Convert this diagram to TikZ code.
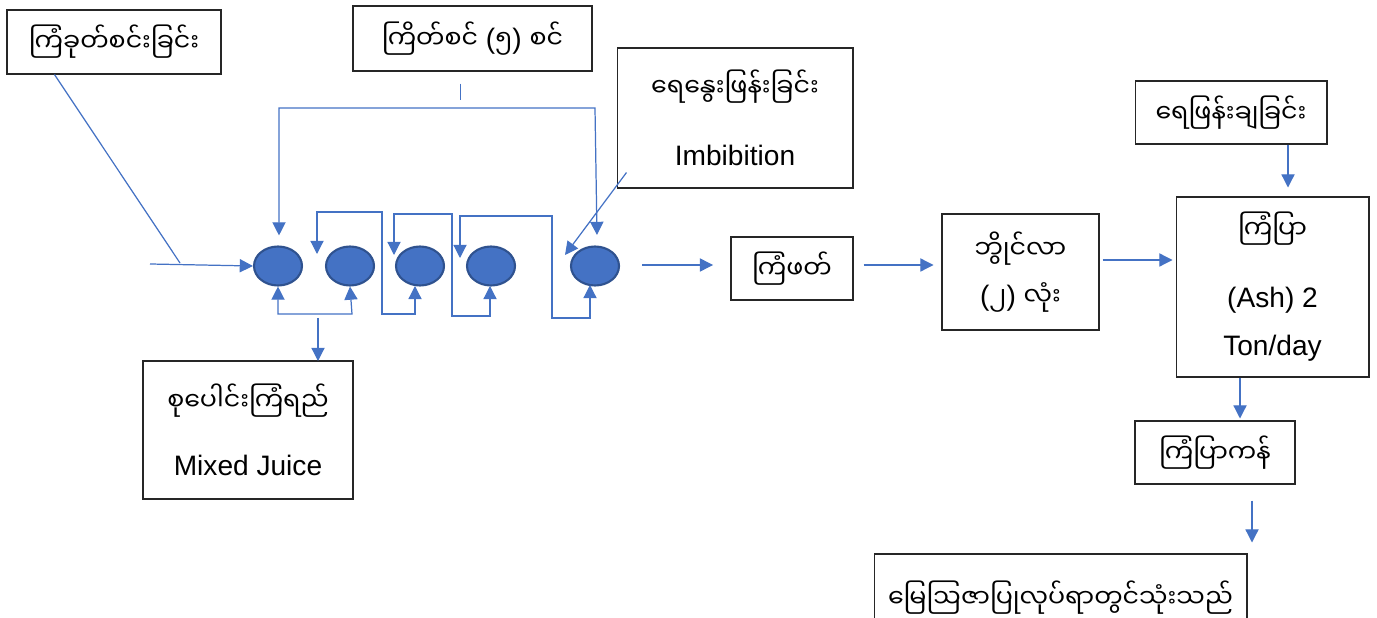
\documentclass[tikz,border=0pt]{standalone}
\usepackage{fontspec}
\setmainfont{Liberation Sans}
\newfontfamily\mya[Script=Myanmar,Scale=0.9]{Noto Sans Myanmar UI}
\usepackage{tikz}
\usetikzlibrary{shapes.geometric, arrows.meta, positioning}

\definecolor{flowblue}{HTML}{4472C4}
\definecolor{millrim}{HTML}{2F528F}
\tikzset{
    box/.style={draw=black!85, line width=0.6pt, align=center, inner sep=0pt},
    mill/.style={ellipse, draw=millrim, line width=1.2pt, fill=flowblue,
                 minimum width=0.96cm, minimum height=0.78cm, inner sep=0pt},
    wire/.style={draw=flowblue, line width=0.7pt},
}

\begin{document}
\begin{tikzpicture}[x=0.02cm, y=-0.02cm, >={Triangle[length=7.5pt,width=7.5pt]},
    font=\fontsize{16pt}{19pt}\selectfont]
    \useasboundingbox (0,0) rectangle (1377,618);
    \clip (0,0) rectangle (1377,618);

    % boxes
    \node[box, minimum width=4.28cm, minimum height=1.28cm] (cut) at (114,42) {\mya ကြံခုတ်စင်းခြင်း};
    \node[box, minimum width=4.78cm, minimum height=1.30cm] (crush) at (472.5,38.5)
        {{\mya ကြိတ်စင်} ({\mya ၅}) {\mya စင်}};
    \node[box, minimum width=4.72cm, minimum height=2.80cm] (imbib) at (735,118)
        {{\mya ရေနွေးဖြန်းခြင်း}\\[20pt] Imbibition};
    \node[box, minimum width=4.20cm, minimum height=2.76cm] (juice) at (248,430)
        {{\mya စုပေါင်းကြံရည်}\\[18pt] Mixed Juice};
    \node[box, minimum width=2.44cm, minimum height=1.26cm] (bagasse) at (792,268.5) {\mya ကြံဖတ်};
    \node[box, minimum width=3.14cm, minimum height=2.32cm] (boiler) at (1020.5,272)
        {{\mya ဘွိုင်လာ}\\[8pt] ({\mya ၂}) {\mya လုံး}};
    \node[box, minimum width=3.84cm, minimum height=1.26cm] (spray) at (1231,112.5) {\mya ရေဖြန်းချခြင်း};
    \node[box, minimum width=3.86cm, minimum height=3.60cm] (ash) at (1272.5,287)
        {{\mya ကြံပြာ}\\[20pt] (Ash) 2\\[8.5pt] Ton/day};
    \node[box, minimum width=3.20cm, minimum height=1.26cm] (ashpit) at (1215,452.5) {\mya ကြံပြာကန်};
    \node[box, minimum width=7.46cm, minimum height=1.76cm] (fert) at (1060.5,598) {\mya မြေဩဇာပြုလုပ်ရာတွင်သုံးသည်};

    % mills
    \node[mill] (m1) at (278,266) {};
    \node[mill] (m2) at (350,266) {};
    \node[mill] (m3) at (420,266) {};
    \node[mill] (m4) at (491,266) {};
    \node[mill] (m5) at (595,266) {};

    % cane feed
    \coordinate (feed) at (150,264);
    \coordinate (join) at (180,263);
    \draw[wire] (cut.south west) ++(48,0) -- (join);
    \draw[wire,->] (feed) -- (m1.west);

    % mill feeds from the top
    \draw[wire] (crush.south) ++(-12,12) -- ++(0,16);
    \draw[wire,<->] (m1.north) ++(1,-10) -- (279,108) -- (595,108) -- (597,235);

    % juice between mills
    \draw[wire,<->] (317,254) -- (317,212) -- (382,212) -- (382,314) -- (415,314) -- (415,286);
    \draw[wire,<->] (394,255) -- (394,214) -- (452,214) -- (452,316) -- (490,316) -- (490,286);
    \draw[wire,<->] (460,258) -- (460,216) -- (552,216) -- (552,318) -- (590,318) -- (590,285);
    \draw[wire,<->] (m1.south) -- (278,314) -- (352,314) -- (m2.south);
    \draw[wire,->] (318,318) -- (318,361);

    % imbibition water
    \draw[wire,->] (imbib.south west) ++(10,-16) -- (565,255);

    % bagasse to boiler to ash
    \draw[wire,->] (m5.east) ++(22,-1) -- ++(71,0);
    \draw[wire,->] (bagasse.east) ++(10,-3.5) -- ++(70,0);
    \draw[wire,->] (boiler.east) ++(3,-12) -- ++(70,0);
    \draw[wire,->] (spray.south) ++(57,0) -- ++(0,43);
    \draw[wire,->] (ash.south) ++(-32.5,0) -- ++(0,41);
    \draw[wire,->] (ashpit.south) ++(37,16) -- ++(0,42);
\end{tikzpicture}
\end{document}
